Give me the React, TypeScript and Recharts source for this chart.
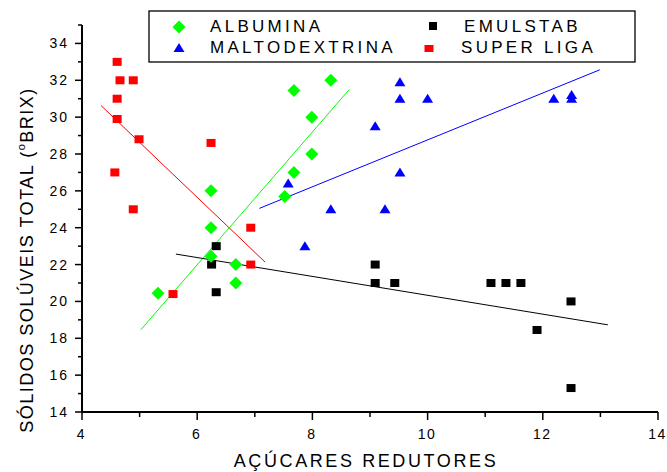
import React from 'react';
import { ScatterChart, Scatter, XAxis, YAxis, ReferenceLine, Legend } from 'recharts';

const albuminaX = [8.32, 7.68, 7.99, 7.99, 7.68, 7.52, 6.24, 6.24, 6.24, 6.67, 6.67, 5.32];
const albuminaY = [32, 31.45, 30, 28, 27, 25.7, 26, 24, 22.45, 22, 21, 20.45];
const maltoX = [7.58, 8.32, 7.87, 9.09, 9.52, 9.52, 10.0, 9.52, 9.26, 12.19, 12.5, 12.5];
const maltoY = [26.4, 25, 23, 29.5, 31.9, 31.0, 31.0, 27.0, 25.0, 31.0, 31.2, 31.0];
const emulX = [6.33, 6.25, 6.33, 9.09, 9.09, 9.43, 11.1, 11.36, 11.62, 11.9, 12.49, 12.49];
const emulY = [23, 22, 20.5, 22, 21, 21, 21, 21, 21, 18.45, 20, 15.3];
const superX = [4.61, 4.66, 4.89, 4.61, 4.61, 4.99, 4.57, 4.89, 6.24, 6.93, 6.93, 5.58];
const superY = [33, 32, 32, 31, 29.9, 28.8, 27, 25, 28.6, 24, 22, 20.4];

const fitAlbumina = [[5.02, 18.46], [8.64, 31.5]];
const fitMalto = [[7.08, 25.05], [12.99, 32.57]];
const fitEmul = [[5.63, 22.57], [13.13, 18.73]];
const fitSuper = [[4.33, 30.63], [7.18, 22.13]];

const xTicks = [4, 5, 6, 7, 8, 9, 10, 11, 12, 13, 14];
const yTicks = [14, 15, 16, 17, 18, 19, 20, 21, 22, 23, 24, 25, 26, 27, 28, 29, 30, 31, 32, 33, 34, 35];

const legendNames = ['ALBUMINA', 'MALTODEXTRINA', 'EMULSTAB', 'SUPER LIGA'];
const xLabel = 'AÇÚCARES REDUTORES';
const yLabelA = 'SÓLIDOS SOLÚVEIS TOTAL (';
const yLabelSup = 'o';
const yLabelB = 'BRIX)';

const GREEN = '#00FF00';
const BLUE = '#0000FF';
const RED = '#FF0000';
const BLACK = '#000000';
const FONT = "Arial, 'Liberation Sans', Helvetica, sans-serif";

const toPts = (xs: number[], ys: number[]) => xs.map((x, i) => ({ x, y: ys[i] }));
const albumina = toPts(albuminaX, albuminaY);
const malto = toPts(maltoX, maltoY);
const emul = toPts(emulX, emulY);
const superLiga = toPts(superX, superY);

const Diamond = (props: any) => {
  const { cx, cy } = props;
  return <polygon points={`${cx},${cy - 6.5} ${cx + 6.5},${cy} ${cx},${cy + 6.5} ${cx - 6.5},${cy}`} fill={GREEN} />;
};
const Triangle = (props: any) => {
  const { cx, cy } = props;
  return <polygon points={`${cx},${cy - 5} ${cx + 5.5},${cy + 4} ${cx - 5.5},${cy + 4}`} fill={BLUE} />;
};
const SquareShape = (color: string) => (props: any) => {
  const { cx, cy } = props;
  return <rect x={cx - 4.5} y={cy - 4} width={9} height={8} fill={color} />;
};
const BlackSquare = SquareShape(BLACK);
const RedSquare = SquareShape(RED);

const XTick = (props: any) => {
  const { x, y, payload } = props;
  const v = payload.value;
  const major = v % 2 === 0;
  return (
    <g>
      <line x1={x} x2={x} y1={y} y2={y + (major ? 8 : 5)} stroke="#000" strokeWidth={1.5} />
      {major && (
        <text x={x - 0.5} y={y + 27} textAnchor="middle" fontSize={14} letterSpacing={1.5} fontFamily={FONT} fill="#000">
          {v}
        </text>
      )}
    </g>
  );
};

const YTick = (props: any) => {
  const { x, y, payload } = props;
  const v = payload.value;
  const major = v % 2 === 0;
  return (
    <g>
      <line x1={x} x2={x - (major ? 7 : 4)} y1={y} y2={y} stroke="#000" strokeWidth={1.5} />
      {major && (
        <text x={x - 13} y={y + 5} textAnchor="end" fontSize={14} letterSpacing={2} fontFamily={FONT} fill="#000">
          {v}
        </text>
      )}
    </g>
  );
};

const XLabel = () => (
  <text x={366} y={467} textAnchor="middle" fontSize={18} letterSpacing={2.6} fontFamily={FONT} fill="#000">
    {xLabel}
  </text>
);

const YLabel = () => (
  <text
    transform="translate(33,260) rotate(-90)"
    textAnchor="middle"
    fontSize={18}
    letterSpacing={1.5}
    fontFamily={FONT}
    fill="#000"
  >
    {yLabelA}
    <tspan fontSize={11} dy={-8}>{yLabelSup}</tspan>
    <tspan dy={8}>{yLabelB}</tspan>
  </text>
);

const LegendBox = () => (
  <svg width={490} height={54} style={{ display: 'block' }}>
    <rect x={1} y={1} width={486} height={51} fill="#fff" stroke="#000" strokeWidth={1.3} />
    <polygon points="31,10.5 37.5,17 31,23.5 24.5,17" fill={GREEN} />
    <polygon points="31,33 36.5,42 25.5,42" fill={BLUE} />
    <rect x={281} y={12} width={8} height={8} fill={BLACK} />
    <rect x={276.5} y={35} width={9} height={7} fill={RED} />
    <text x={62} y={22} fontSize={17} letterSpacing={3.3} fontFamily={FONT} fill="#000">{legendNames[0]}</text>
    <text x={62} y={43} fontSize={17} letterSpacing={3.3} fontFamily={FONT} fill="#000">{legendNames[1]}</text>
    <text x={316} y={22} fontSize={17} letterSpacing={3.3} fontFamily={FONT} fill="#000">{legendNames[2]}</text>
    <text x={313} y={43} fontSize={17} letterSpacing={3.3} fontFamily={FONT} fill="#000">{legendNames[3]}</text>
  </svg>
);

const seg = (f: number[][]) => [{ x: f[0][0], y: f[0][1] }, { x: f[1][0], y: f[1][1] }];

export default function App() {
  return (
    <div style={{ position: 'absolute', left: 0, top: 0, width: 667, height: 472, background: '#fff' }}>
      <ScatterChart width={667} height={472} margin={{ top: 25, right: 9, bottom: 0, left: 0 }}>
        <XAxis
          type="number"
          dataKey="x"
          domain={[4, 14]}
          ticks={xTicks}
          interval={0}
          height={60}
          axisLine={{ stroke: '#000', strokeWidth: 2 }}
          tickLine={false}
          tickSize={0}
          tickMargin={0}
          tick={<XTick />}
          allowDataOverflow
          label={<XLabel />}
        />
        <YAxis
          type="number"
          dataKey="y"
          domain={[14, 35]}
          ticks={yTicks}
          interval={0}
          width={82}
          axisLine={{ stroke: '#000', strokeWidth: 2 }}
          tickLine={false}
          tickSize={0}
          tickMargin={0}
          tick={<YTick />}
          allowDataOverflow
          label={<YLabel />}
        />
        <Legend
          layout="horizontal"
          verticalAlign="middle"
          align="center"
          wrapperStyle={{ position: 'absolute', left: 148, top: 10, width: 490, height: 54 }}
          content={() => <LegendBox />}
        />
        <ReferenceLine segment={seg(fitSuper)} stroke={RED} strokeWidth={1} />
        <ReferenceLine segment={seg(fitAlbumina)} stroke={GREEN} strokeWidth={1} />
        <ReferenceLine segment={seg(fitMalto)} stroke={BLUE} strokeWidth={1} />
        <ReferenceLine segment={seg(fitEmul)} stroke={BLACK} strokeWidth={1} />
        <Scatter name={legendNames[3]} data={superLiga} shape={RedSquare} isAnimationActive={false} />
        <Scatter name={legendNames[2]} data={emul} shape={BlackSquare} isAnimationActive={false} />
        <Scatter name={legendNames[1]} data={malto} shape={Triangle} isAnimationActive={false} />
        <Scatter name={legendNames[0]} data={albumina} shape={Diamond} isAnimationActive={false} />
      </ScatterChart>
    </div>
  );
}
